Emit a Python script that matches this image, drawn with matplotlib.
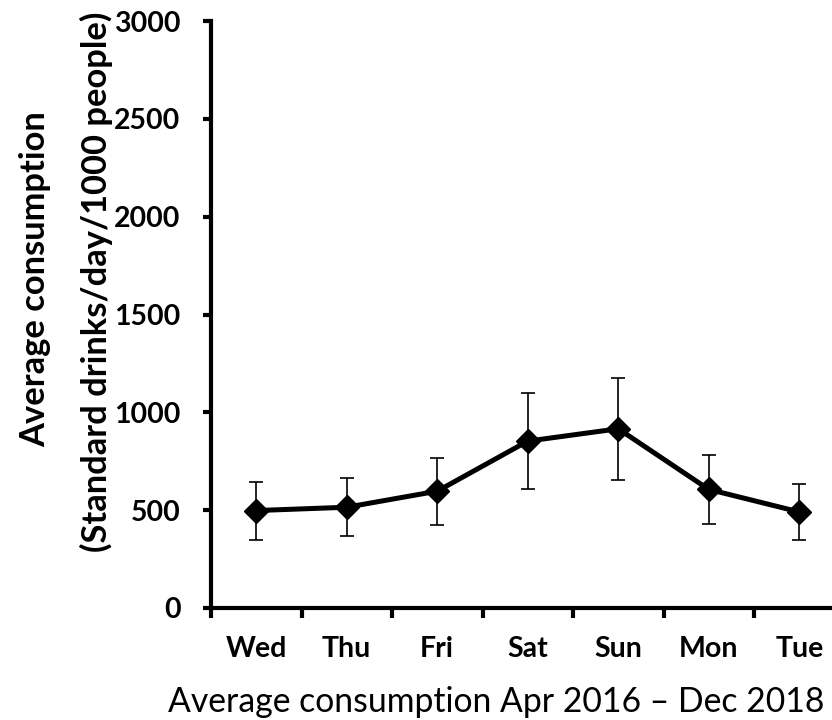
import matplotlib
matplotlib.use("Agg")
import matplotlib.pyplot as plt
import numpy as np

days = ["Wed", "Thu", "Fri", "Sat", "Sun", "Mon", "Tue"]
mean_consumption = [498, 515, 597, 853, 916, 606, 491]
err_consumption = [148, 147, 172, 245, 262, 176, 143]
y_ticks = [0, 500, 1000, 1500, 2000, 2500, 3000]

plt.rcParams["font.family"] = ["Lato", "DejaVu Sans"]

W, H = 832, 720
fig = plt.figure(figsize=(W / 100, H / 100), dpi=100)
left, right = 211, 844.5
top, bottom = 21, 608
ax = fig.add_axes([left / W, 1 - bottom / H, (right - left) / W, (bottom - top) / H])

x = np.arange(len(days)) + 0.5
ax.errorbar(x, mean_consumption, yerr=err_consumption, color="black",
            linewidth=3.6, marker="D", markersize=12, ecolor="black",
            elinewidth=1.2, capsize=5, capthick=1.2, zorder=3)

ax.set_xlim(0, len(days))
ax.set_ylim(0, 3000)
ax.set_yticks(y_ticks)
ax.set_yticklabels([str(v) for v in y_ticks], fontsize=20.5, fontweight="bold")
ax.set_xticks(np.arange(len(days) + 1))
ax.set_xticklabels([])
ax.set_xticks(x, minor=True)
ax.set_xticklabels(days, minor=True, fontsize=20.5, fontweight="bold")
ax.tick_params(axis="x", which="minor", length=0, pad=20)
ax.tick_params(axis="x", which="major", length=7, width=3, direction="out")
ax.tick_params(axis="y", length=6, width=3, direction="out", pad=16)

for side in ["top", "right"]:
    ax.spines[side].set_visible(False)
for side in ["left", "bottom"]:
    ax.spines[side].set_linewidth(3)

fig.text(35 / W, 1 - 279 / H, "Average consumption", rotation=90,
         ha="center", va="center", fontsize=24.8, fontweight="bold")
fig.text(96 / W, 1 - 282 / H, "(Standard drinks/day/1000 people)", rotation=90,
         ha="center", va="center", fontsize=24.8, fontweight="bold")
fig.text(496 / W, 1 - 712 / H, "Average consumption Apr 2016 \u2013 Dec 2018",
         ha="center", va="baseline", fontsize=24.3)

fig.savefig("out.png", dpi=100, facecolor="white")
